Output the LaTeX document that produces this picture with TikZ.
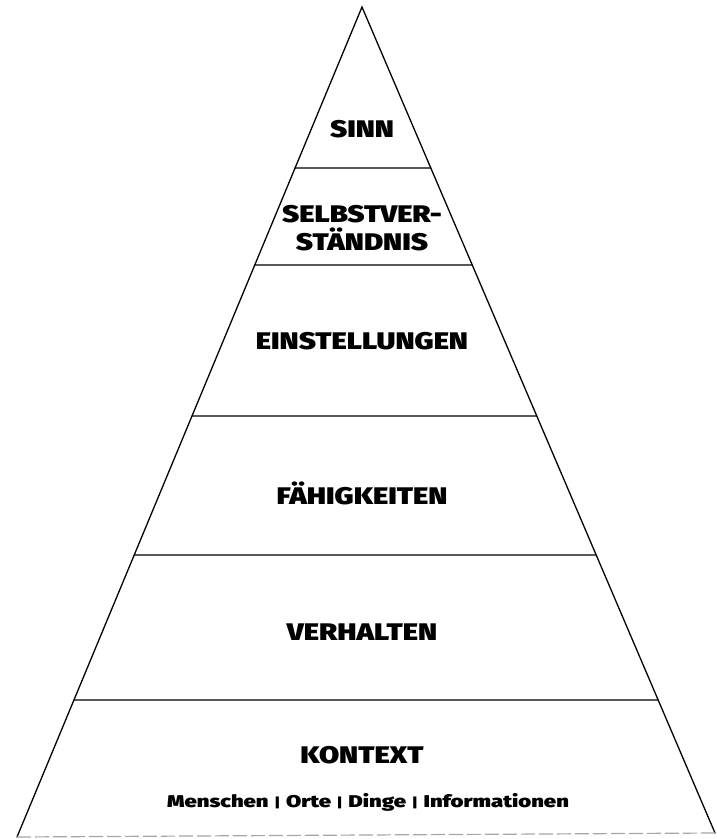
\documentclass[tikz,border=0pt]{standalone}
\usepackage{fontspec}
\setmainfont{Fira Sans}[BoldFont={* Black}]
\newfontfamily\heavy{Fira Sans}[UprightFont={* Black},FakeStretch=1.22]
\newfontfamily\heavysub{Fira Sans}[UprightFont={* Black},FakeStretch=1.3]
\begin{document}
\begin{tikzpicture}[x=1pt,y=-1pt,
  edge/.style={draw=black,line width=1.3pt,line cap=round},
  lvl/.style={font=\heavy\fontsize{24}{28}\selectfont,align=center,inner sep=0pt},
  sub/.style={font=\heavysub\fontsize{17}{19}\selectfont,inner sep=0pt}]
\useasboundingbox (0,0) rectangle (717,839);
\coordinate (apex) at (362,7);
\coordinate (bl) at (17,837);
\coordinate (br) at (715,833);
\draw[edge] (bl) -- (apex) -- (br);
\draw[draw=black!35,line width=1.2pt,dash pattern=on 14pt off 4pt] (bl) -- (br);
\foreach \y/\n in {168/a,265/b,416/c,555/d,700/e}{
  \path (apex) -- (bl) coordinate[pos={(\y-7)/830}] (l\n);
  \path (apex) -- (br) coordinate[pos={(\y-7)/826}] (r\n);
  \draw[edge] (l\n) -- (r\n);
}
\node[lvl] (sinn) at (362,129) {SINN};
\node[lvl] (selbst) at (362,228) {SELBSTVER-\\STÄNDNIS};
\node[lvl] (einst) at (362,341) {EINSTELLUNGEN};
\node[lvl] (faeh) at (362,493) {FÄHIGKEITEN};
\node[lvl] (verh) at (362,632) {VERHALTEN};
\node[lvl] (kont) at (362,755) {KONTEXT};
\node[sub] (menschen) at (368,802) {Menschen\,\,{\fontsize{13}{14}\selectfont|}\,\,Orte\,\,{\fontsize{13}{14}\selectfont|}\,\,Dinge\,\,{\fontsize{13}{14}\selectfont|}\,\,Informationen};
\end{tikzpicture}
\end{document}
